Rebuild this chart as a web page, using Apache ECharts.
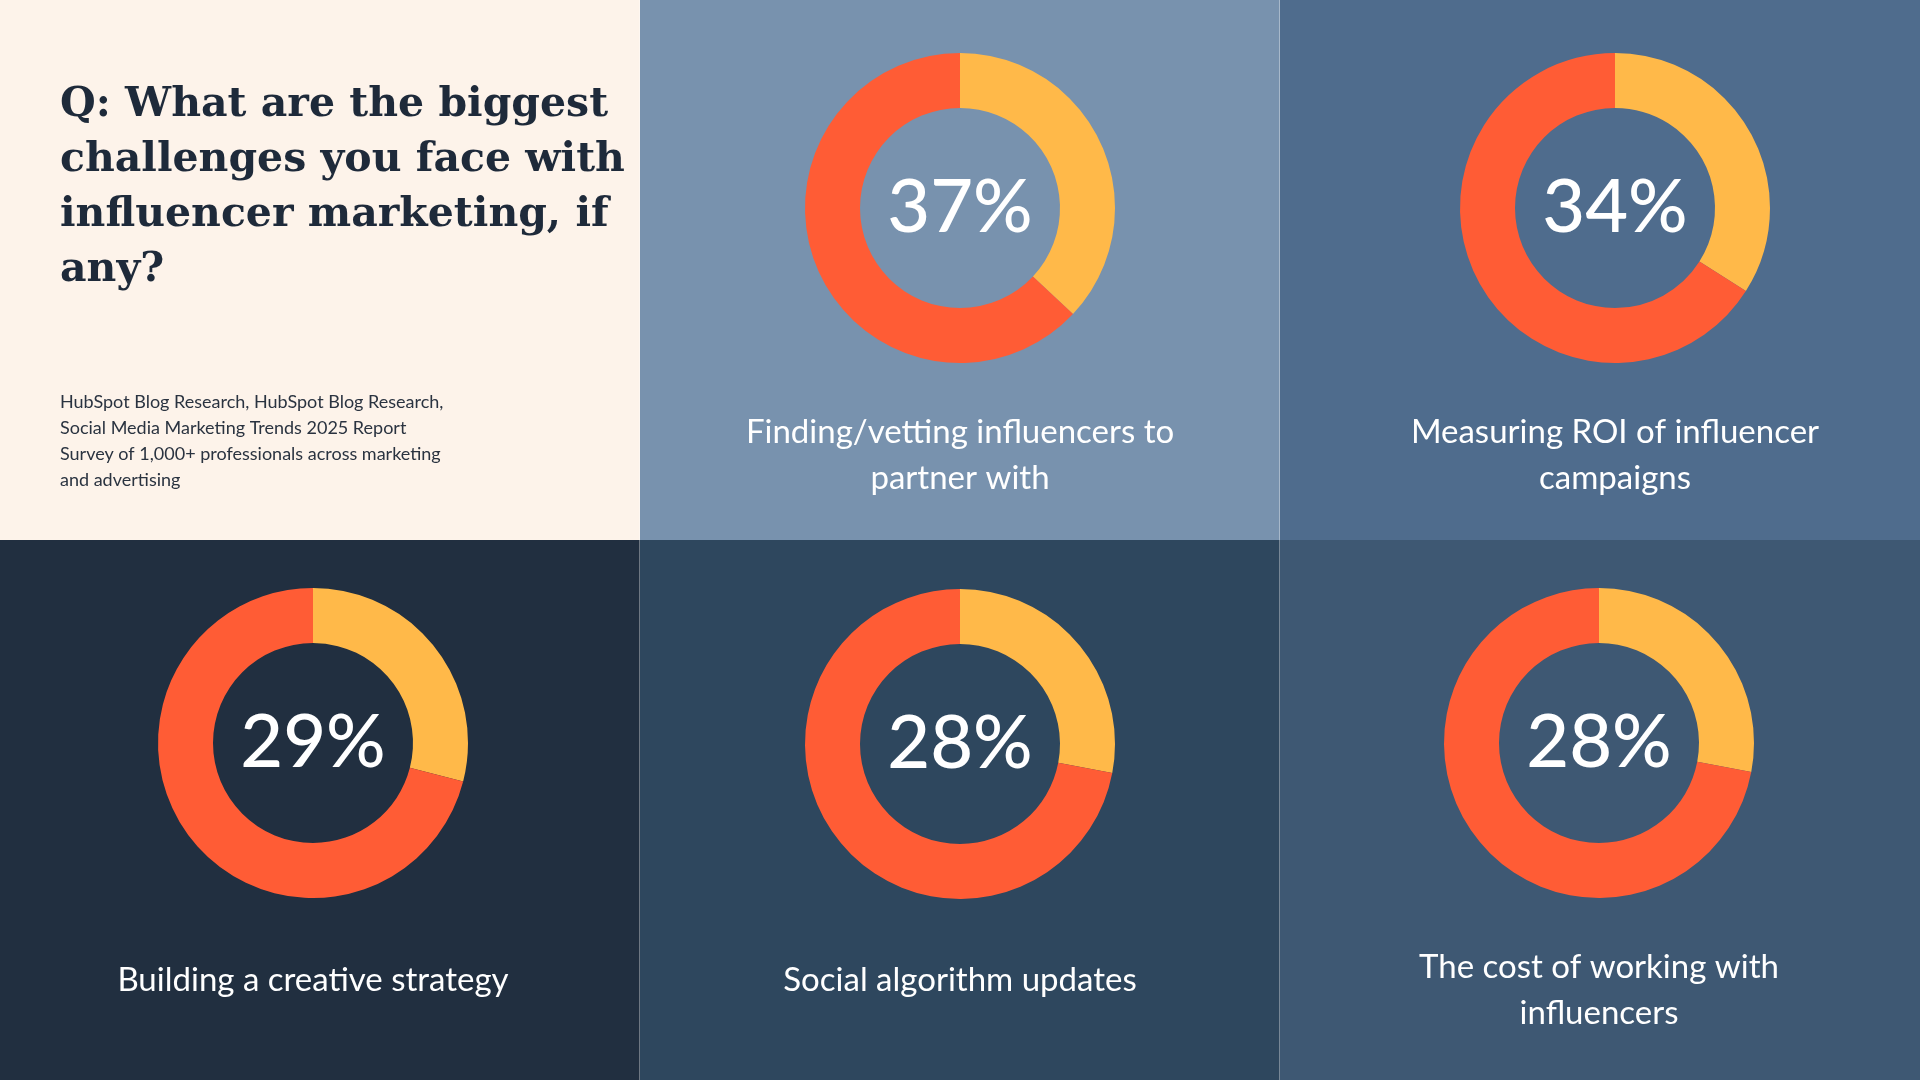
<!DOCTYPE html>
<html><head><meta charset="utf-8">
<script src="https://cdn.jsdelivr.net/npm/echarts@6/dist/echarts.min.js"></script>
<style>html,body{margin:0;padding:0;background:#fff}#c{width:1920px;height:1080px}</style>
</head><body><div id="c"></div>
<script>
const categories = ["Finding/vetting influencers to\npartner with","Measuring ROI of influencer\ncampaigns","Building a creative strategy","Social algorithm updates","The cost of working with\ninfluencers"];
const values = [37,34,29,28,28];
const titleText = "Q: What are the biggest\nchallenges you face with\ninfluencer marketing, if\nany?";
const sourceText = "HubSpot Blog Research, HubSpot Blog Research,\nSocial Media Marketing Trends 2025 Report\nSurvey of 1,000+ professionals across marketing\nand advertising";

const panelBg = ['#FDF3EA','#7892AE','#4F6C8D','#212F40','#2E475E','#3E5873'];
const panels = [[0,0],[640,0],[1280,0],[0,540],[640,540],[1280,540]];
const centers = [[960,208],[1615,208],[313,743],[960,744],[1599,743]];
const labelY = [455,455,980,980,990];
const font = 'Lato, "Noto Sans", sans-serif';

const graphic = [];
panels.forEach((p,i)=>graphic.push({type:'rect',shape:{x:p[0],y:p[1],width:640,height:540},style:{fill:panelBg[i]},z:-10}));
graphic.push({type:'rect',shape:{x:639,y:0,width:1,height:1080},style:{fill:'rgba(255,255,255,0.35)'},z:-5});
graphic.push({type:'rect',shape:{x:1279,y:0,width:1,height:1080},style:{fill:'rgba(255,255,255,0.35)'},z:-5});
graphic.push({type:'text',left:60,top:78,style:{text:titleText,font:'bold 41px "DejaVu Serif", "Liberation Serif", serif',fill:'#1E2A3A',lineHeight:55}});
graphic.push({type:'text',left:60,top:389,style:{text:sourceText,font:'18px '+font,fill:'#2A3340',lineHeight:26}});
categories.forEach((c,i)=>{
  graphic.push({type:'text',x:centers[i][0],y:labelY[i],style:{text:c,font:'33px '+font,fill:'#FFFFFF',align:'center',verticalAlign:'middle',lineHeight:46}});
});

const series = values.map((v,i)=>({
  type:'pie',center:centers[i],radius:[100,155],startAngle:90,clockwise:true,silent:true,
  label:{show:true,position:'center',formatter:()=>v+'%',color:'#fff',fontSize:74,fontFamily:font,fontWeight:500},
  labelLine:{show:false},
  data:[{value:v,itemStyle:{color:'#FFB949'},label:{show:true}},{value:100-v,itemStyle:{color:'#FF5C35'},label:{show:false}}]
}));

const chart = echarts.init(document.getElementById('c'));
chart.setOption({animation:false,graphic,series});
</script></body></html>
